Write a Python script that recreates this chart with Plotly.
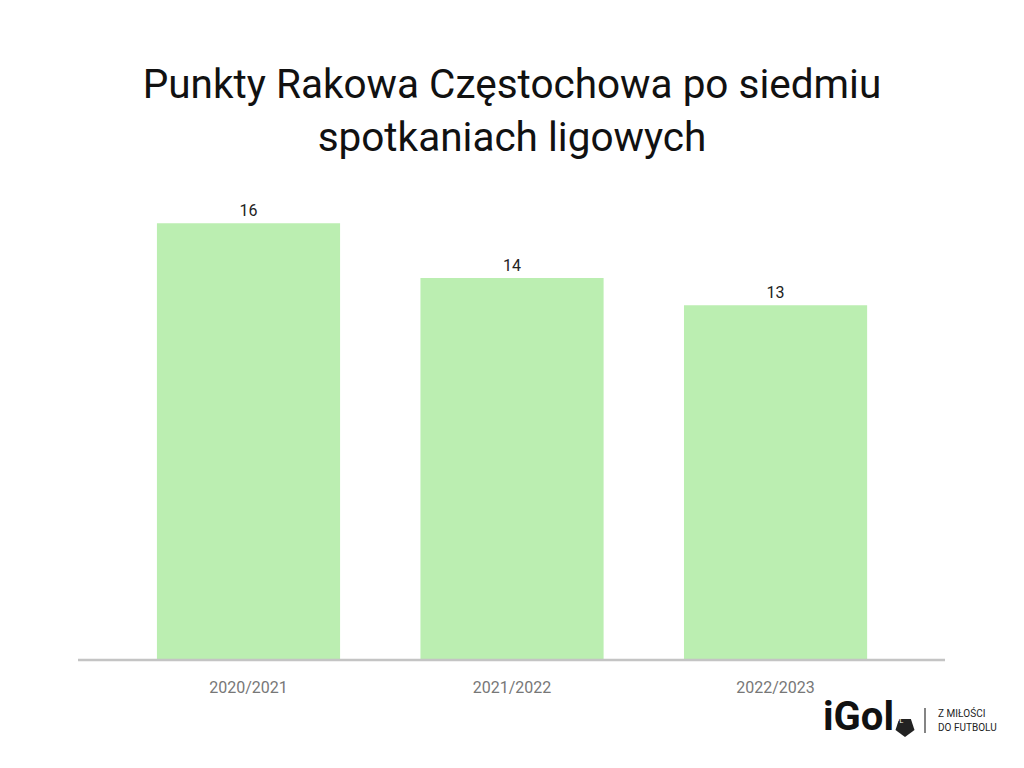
import plotly.graph_objects as go
import math

seasons = ["2020/2021", "2021/2022", "2022/2023"]
points = [16, 14, 13]
title_text = "Punkty Rakowa Częstochowa po siedmiu<br>spotkaniach ligowych"

OFF = 8  # page body offset
L, R, T, B = 78 - OFF, 945 - OFF, 196 - OFF, 660 - OFF
W, H = R - L, B - T

def px(x):
    return (x - OFF - L) / W

def py(y):
    return (B - (y - OFF)) / H

fig = go.Figure()
fig.add_trace(go.Bar(
    x=[0, 1, 2], y=points,
    marker=dict(color="#bbeeb1", line=dict(width=0)),
    width=0.695,
    text=[str(v) for v in points], textposition="outside",
    textfont=dict(family="Roboto", size=16, color="#222222"),
    cliponaxis=False,
    hoverinfo="skip",
))

fig.update_layout(
    width=1024, height=768,
    margin=dict(l=L, r=1024 - R, t=T, b=768 - B),
    paper_bgcolor="white", plot_bgcolor="white",
    showlegend=False,
    title=dict(text=title_text, x=(512 - OFF) / 1024, xanchor="center", y=1 - 90 / 768, yanchor="middle",
               font=dict(family="Roboto", size=40.5, color="#111111")),
    xaxis=dict(range=[-0.647, 2.643], tickvals=[0, 1, 2], ticktext=seasons,
               showgrid=False, zeroline=False, showline=False,
               ticks="outside", ticklen=13, tickcolor="rgba(0,0,0,0)",
               tickfont=dict(family="Roboto", size=16, color="#777777")),
    yaxis=dict(range=[0, 17], visible=False, showgrid=False, zeroline=False),
    font=dict(family="Roboto"),
)

# baseline
fig.add_shape(type="line", xref="paper", yref="paper", x0=0, x1=1, y0=0, y1=0,
              line=dict(color="#c4c4c4", width=2.5), layer="above")

# logo
fig.add_annotation(xref="paper", yref="paper", x=px(821), y=py(716), xanchor="left", yanchor="middle",
                   text="<b>iGol</b>", showarrow=False,
                   font=dict(family="Roboto", size=40, color="#111111"))
cx, cy, r = 905, 727, 10
pts = []
for k in range(5):
    a = math.radians(-90 + 72 * k + 36)
    pts.append((px(cx + r * math.cos(a)), py(cy + r * math.sin(a))))
path = "M " + " L ".join(f"{x},{y}" for x, y in pts) + " Z"
fig.add_shape(type="path", xref="paper", yref="paper", path=path,
              fillcolor="#222222", line=dict(width=0))
fig.add_annotation(xref="paper", yref="paper", x=px(905), y=py(727), text="PL", showarrow=False,
                   font=dict(family="Roboto", size=7, color="white"))
fig.add_shape(type="line", xref="paper", yref="paper", x0=px(925), x1=px(925), y0=py(708), y1=py(733),
              line=dict(color="#333333", width=1.2))
fig.add_annotation(xref="paper", yref="paper", x=px(936), y=py(713), xanchor="left", yanchor="middle",
                   text="Z MIŁOŚCI", showarrow=False,
                   font=dict(family="Roboto", size=10, color="#222222"))
fig.add_annotation(xref="paper", yref="paper", x=px(936), y=py(727), xanchor="left", yanchor="middle",
                   text="DO FUTBOLU", showarrow=False,
                   font=dict(family="Roboto", size=10, color="#222222"))

fig.write_html("out.html")
